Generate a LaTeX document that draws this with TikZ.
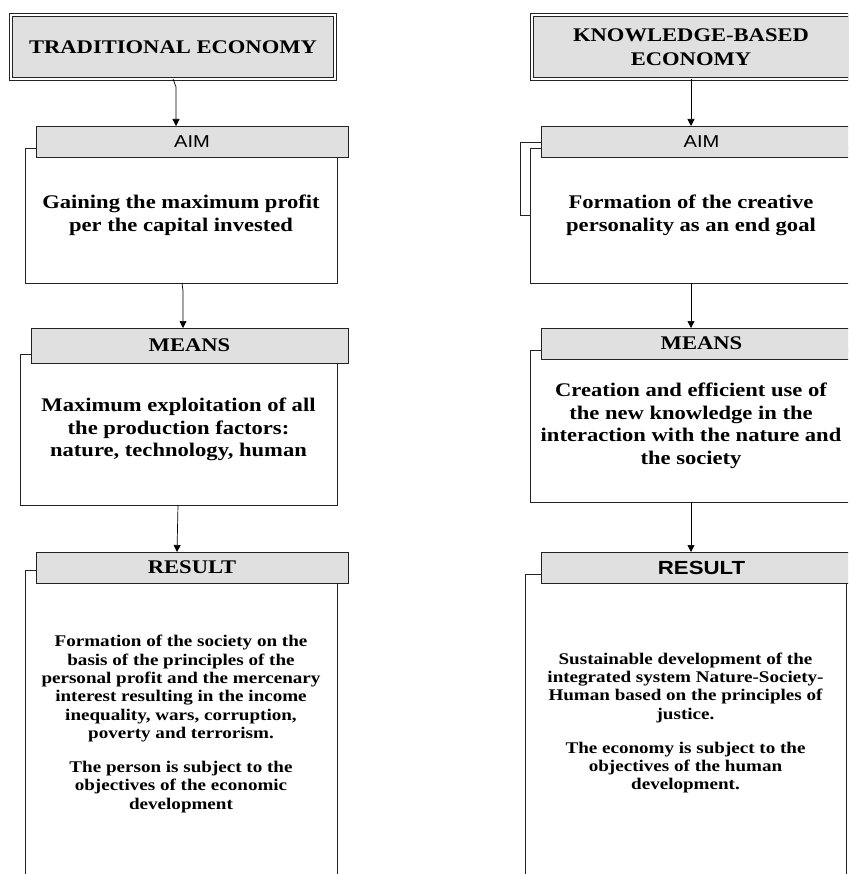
\documentclass[tikz,border=0pt]{standalone}
\usepackage{fontspec}
\setmainfont{Liberation Serif}[FakeStretch=1.17]
\setsansfont{Liberation Sans}[FakeStretch=1.17]
\usetikzlibrary{arrows.meta}
\definecolor{hdrgray}{RGB}{224,224,224}
\definecolor{linegray}{RGB}{35,35,35}

\begin{document}
\begin{tikzpicture}[x=1pt,y=-1pt,
    titlebox/.style={draw=linegray, line width=0.8pt, double, double distance=2.4pt,
        fill=hdrgray, inner sep=0pt, outer sep=0pt, align=center,
        font=\fontsize{19.3}{24}\selectfont\bfseries},
    hdrbox/.style={draw=linegray, line width=0.9pt, fill=hdrgray, inner sep=0pt,
        outer sep=0pt, minimum height=31pt},
    bodybox/.style={draw=linegray, line width=0.9pt, fill=white, inner sep=0pt,
        outer sep=0pt, align=center, font=\fontsize{19.3}{22.5}\selectfont\bfseries},
    restext/.style={inner sep=0pt, align=center,
        font=\fontsize{16.3}{18.3}\selectfont\bfseries},
    sansfnt/.style={font=\sffamily\fontsize{17.2}{20}\selectfont},
    serfnt/.style={font=\fontsize{19.3}{22}\selectfont\bfseries},
    arr/.style={draw=black, line width=0.7pt, -{Triangle[length=7pt,width=7pt]}}]

    \useasboundingbox (0,0) rectangle (848,874);
    \clip (0,0) rectangle (848,874);

    % Traditional economy
    \node[titlebox, minimum width=324pt, minimum height=64pt] (ttlL) at (173,47) {TRADITIONAL ECONOMY};
    \node[bodybox, minimum width=312pt, minimum height=135pt] (aimbL) at (181,215.5)
        {Gaining the maximum profit\\per the capital invested};
    \node[hdrbox, sansfnt, minimum width=312pt] (aimhL) at (192,141.5) {AIM};
    \node[bodybox, minimum width=317pt, minimum height=151pt] (mbL) at (178.5,429.5)
        {Maximum exploitation of all\\the production factors:\\nature, technology, human};
    \node[hdrbox, serfnt, minimum width=317pt, minimum height=35pt] (mhL) at (189.5,345.5) {MEANS};
    \node[bodybox, minimum width=312pt, minimum height=320pt] (rbL) at (181,730) {};
    \node[hdrbox, serfnt, minimum width=312pt] (rhL) at (192,567.5) {RESULT};
    \node[restext] (rtL) at (181,724)
        {Formation of the society on the\\basis of the principles of the\\
         personal profit and the mercenary\\interest resulting in the income\\
         inequality, wars, corruption,\\poverty and terrorism.\\[16pt]
         The person is subject to the\\objectives of the economic\\development};

    % Knowledge-based economy
    \node[titlebox, minimum width=318pt, minimum height=64pt] (ttlR) at (691,47) {KNOWLEDGE-BASED\\ECONOMY};
    \node[bodybox, minimum width=322pt, minimum height=135pt] (aimbR) at (691,215.5)
        {Formation of the creative\\personality as an end goal};
    \node[hdrbox, sansfnt, minimum width=321pt] (aimhR) at (701.5,141.5) {AIM};
    \node[bodybox, minimum width=322pt, minimum height=152pt] (mbR) at (691,426)
        {Creation and efficient use of\\the new knowledge in the\\
         interaction with the nature and\\the society};
    \node[hdrbox, serfnt, minimum width=321pt] (mhR) at (701.5,343.5) {MEANS};
    \node[bodybox, minimum width=321pt, minimum height=316pt] (rbR) at (685.5,732) {};
    \node[hdrbox, font=\sffamily\fontsize{19}{22}\selectfont\bfseries, minimum width=321pt] (rhR) at (701.5,567.5) {RESULT};
    \node[restext] (rtR) at (685.5,723)
        {Sustainable development of the\\integrated system Nature-Society-\\
         Human based on the principles of\\justice.\\[16pt]
         The economy is subject to the\\objectives of the human\\development.};

    % Bracket
    \draw[draw=linegray, line width=0.8pt] (aimhR.north west) ++(0,16) -- ++(-21,0) |- (aimbR.west);

    % Arrows
    \draw[arr] (ttlL.south) -- ++(3,8) coordinate (kL1) -- (kL1 |- aimhL.north);
    \draw[arr] ([xshift=1pt]aimbL.south) -- ++(1,8) coordinate (kL2) -- (kL2 |- mhL.north);
    \draw[arr] ([xshift=-0.5pt]mbL.south) -- ([xshift=-1.5pt]mbL.south |- rhL.north);
    \draw[arr] (ttlR.south) -- (ttlR.south |- aimhR.north);
    \draw[arr] (aimbR.south) -- (aimbR.south |- mhR.north);
    \draw[arr] (mbR.south) -- (mbR.south |- rhR.north);
\end{tikzpicture}
\end{document}
